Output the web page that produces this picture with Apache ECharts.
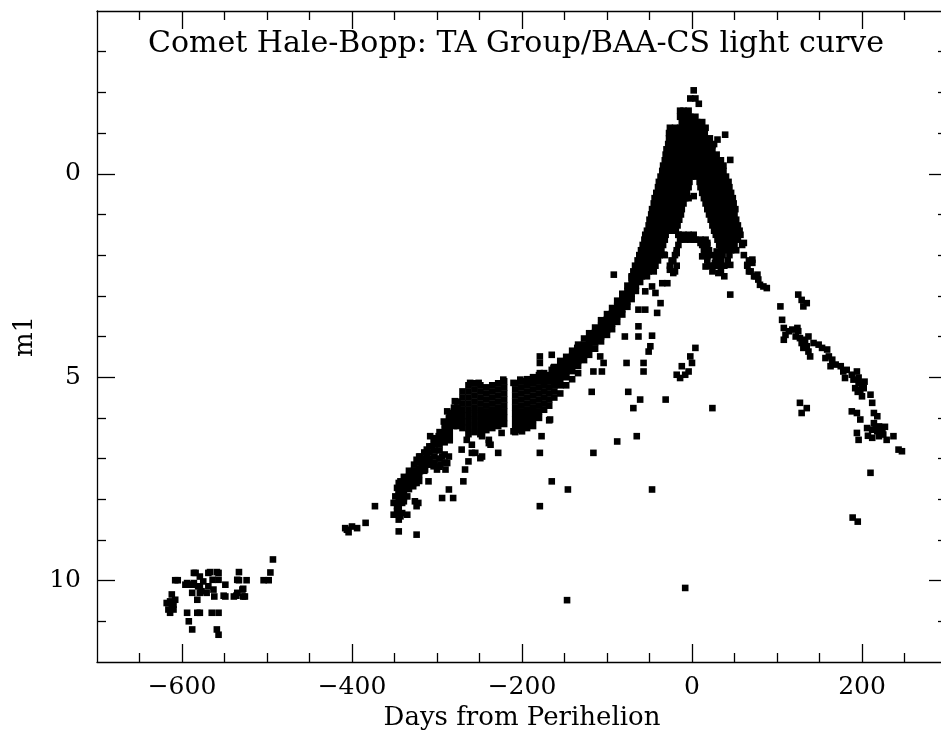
<!DOCTYPE html>
<html><head><meta charset="utf-8">
<script src="https://cdn.jsdelivr.net/npm/echarts@6/dist/echarts.min.js"></script>
<style>html,body{margin:0;padding:0;background:#fff}#c{width:941px;height:731px}</style>
</head><body><div id="c"></div>
<script>
// ---- Data: [day from perihelion, m1] ----
const earlyCluster = [[-493,9.48],[-496,9.80],[-504,9.99],[-498,9.99],[-533,9.79],[-524,9.99],[-533,9.99],[-528,10.2],[-528,10.39],[-536,10.37],[-549,10.1],[-551,10.37],[-559,9.79],[-557,9.98],[-567,9.79],[-569,10.14],[-563,10.22],[-571,10.3],[-562,10.39],[-564,9.98],[-575,10.02],[-579,10.14],[-577,10.26],[-584,9.81],[-586,10.06],[-588,10.3],[-582,10.47],[-581,10.14],[-590,10.1],[-594,10.06],[-605,9.99],[-612,10.34],[-614,10.51],[-612,10.63],[-616,10.71],[-614,10.79],[-608,10.47],[-610,10.59],[-618,10.55],[-610,10.71],[-594,10.79],[-582,10.79],[-592,11.0],[-565,10.79],[-557,10.79],[-588,11.2],[-559,11.2],[-557,11.33],[-579,10.79],[-608,9.99],[-596,10.1],[-588,10.1],[-586,9.81],[-579,9.9],[-579,10.3],[-569,9.81],[-557,9.81],[-549,10.39],[-539,10.39],[-529,10.22],[-535,9.98],[-535,10.3],[-526,10.39]];

const riseScatter = [[-406,8.75],[-400,8.67],[-394,8.71],[-408,8.71],[-404,8.81],[-384,8.58],[-373,8.17],[-345,8.79],[-324,8.87],[-351,8.38],[-343,8.42],[-347,8.3],[-341,8.34],[-335,8.38],[-345,8.5],[-351,8.09],[-347,8.17],[-349,7.93],[-345,7.85],[-343,7.68],[-347,7.72],[-341,7.81],[-343,7.56],[-339,7.97],[-335,7.93],[-341,8.09],[-326,8.05],[-322,8.09],[-324,8.17],[-328,7.68],[-324,7.6],[-322,7.52],[-326,7.4],[-320,7.31],[-316,7.19],[-314,7.27],[-310,7.56],[-324,7.03],[-320,6.95],[-316,7.03],[-312,6.99],[-308,7.11],[-318,7.11],[-304,7.19],[-300,7.27],[-296,7.15],[-290,7.27],[-288,7.11],[-294,6.95],[-286,6.95],[-312,6.78],[-306,6.70],[-300,6.62],[-304,6.54],[-308,6.45],[-298,6.45],[-292,6.54],[-296,6.37],[-290,6.29],[-288,6.17],[-292,6.09],[-286,6.0],[-284,5.88],[-281,5.92],[-282,6.17],[-279,6.04],[-279,5.59],[-288,5.84],[-286,7.76],[-294,7.97],[-281,7.97]];

// columns: [day, [m1 values]]
const riseCols = [[-345,[7.6,7.75,7.9,8.05,8.2,8.35]],[-339,[7.45,7.6,7.75,7.9,8.05]],[-333,[7.3,7.45,7.6,7.75]],[-327,[7.15,7.3,7.45,7.6]],[-321,[6.95,7.1,7.25,7.4,7.55]],[-315,[6.85,7.0,7.15,7.3]],[-309,[6.7,6.85,7.0,7.15]],[-303,[6.5,6.65,6.8,6.95,7.1]],[-297,[6.35,6.5,6.65,6.8,7.0,7.2]],[-291,[6.15,6.3,6.45,6.6,6.9,7.1]],[-285,[5.95,6.1,6.25,6.4,6.55]],[-280,[5.75,5.9,6.05,6.2]]];

const plateauCols = [[-276,[5.6,5.75,5.9,6.05,6.2]],[-270,[5.35,5.5,5.65,5.8,5.95,6.1,6.25]],[-263,[5.2,5.35,5.5,5.65,5.8,5.95,6.1,6.25,6.4]],[-256,[5.15,5.3,5.45,5.6,5.75,5.9,6.05,6.2,6.35]],[-249,[5.2,5.35,5.5,5.65,5.8,5.95,6.1,6.25,6.4]],[-242,[5.25,5.4,5.55,5.7,5.85,6.0,6.15,6.3]],[-235,[5.2,5.35,5.5,5.65,5.8,5.95,6.1,6.25]],[-228,[5.15,5.3,5.45,5.6,5.75,5.9,6.05,6.2]],[-221,[5.1,5.25,5.4,5.55,5.7,5.85,6.0,6.15]],[-208,[5.15,5.3,5.45,5.6,5.75,5.9,6.05,6.2,6.35]],[-201,[5.1,5.25,5.4,5.55,5.7,5.85,6.0,6.15,6.3]],[-194,[5.05,5.2,5.35,5.5,5.65,5.8,5.95,6.1,6.25]],[-187,[5.0,5.15,5.3,5.45,5.6,5.75,5.9,6.05,6.2]],[-180,[4.95,5.1,5.25,5.4,5.55,5.7,5.85,6.0]],[-174,[4.9,5.05,5.2,5.35,5.5,5.65,5.8]],[-168,[4.95,5.1,5.25,5.4,5.55,5.7]]];

const plateauScatter = [[-261,5.14],[-251,5.14],[-222,5.06],[-210,5.14],[-202,5.06],[-192,5.06],[-269,7.56],[-267,7.27],[-263,7.07],[-271,6.78],[-259,6.86],[-255,6.86],[-249,6.99],[-228,6.86],[-265,6.54],[-259,6.66],[-247,6.45],[-239,6.54],[-237,6.66],[-224,6.37],[-210,6.33],[-200,6.33],[-247,6.95],[-239,6.62],[-177,6.45],[-168,6.06],[-179,6.86],[-165,7.56],[-146,7.76],[-179,8.17],[-167,6.04]];

const bandCols = [[-162,[4.75,4.9,5.05,5.2,5.35,5.5]],[-155,[4.6,4.75,4.9,5.05,5.2,5.4]],[-148,[4.5,4.62,4.75,4.88,5.0,5.2]],[-141,[4.35,4.48,4.6,4.72,4.85,5.05]],[-134,[4.2,4.33,4.46,4.6,4.72,4.9]],[-127,[4.05,4.2,4.32,4.45,4.58]],[-121,[3.92,4.05,4.18,4.3,4.45]],[-114,[3.78,3.9,4.02,4.15,4.3]],[-107,[3.6,3.74,3.86,4.0,4.12]],[-100,[3.45,3.58,3.7,3.83,3.96]],[-94,[3.3,3.43,3.55,3.68,3.82]],[-88,[3.12,3.25,3.38,3.5,3.64]],[-82,[2.95,3.08,3.2,3.33,3.46]],[-76,[2.75,2.88,3.01,3.14,3.27]],[-71,[2.55,2.68,2.82,2.95,3.08]],[-66,[2.36,2.49,2.62,2.75,2.88]],[-61,[2.15,2.28,2.4,2.53,2.66]]];

const bandScatter = [[-179,4.49],[-165,4.45],[-179,4.65],[-163,4.77],[-179,4.9],[-165,4.82],[-155,4.82],[-135,4.28],[-129,4.28],[-108,4.49],[-104,4.65],[-116,4.86],[-106,4.86],[-79,4.0],[-63,4.0],[-47,3.98],[-63,3.75],[-49,4.24],[-51,4.37],[-77,4.65],[-57,4.65],[-57,4.86],[-92,2.48],[-116,6.86],[-118,5.36],[-88,6.58],[-65,6.45],[-75,5.36],[-61,5.55],[-69,5.76],[-31,5.55],[24,5.76],[-47,7.76],[-8,10.18],[-147,10.48],[4,4.28],[-2,4.49],[0,4.65],[-12,4.73],[-18,4.94],[-14,5.02],[-4,4.86],[-8,4.94],[-63,3.34],[-55,3.34],[-41,3.42],[-37,3.18],[-43,2.93],[-29,2.69],[-35,2.69],[-47,2.77],[-55,2.89],[-22,2.15],[-18,1.95],[-22,2.44],[-26,2.36],[-33,1.99]];

// rows: [m1, [days]]
const peakRows = [[-2.05,[2]],[-1.85,[-2,4]],[-1.72,[8]],[-1.55,[-14,-10,-4]],[-1.4,[-14,-8,-2,4]],[-1.27,[-12,-6,0,6,12]],[-1.13,[-26,-20,-14,-8,-2,4,10,16]],[-1.0,[-27,-21,-15,-9,-3,3,9,15]],[-0.87,[-27,-21,-15,-9,-3,3,9,15,21]],[-0.73,[-28,-22,-16,-10,-4,2,8,14,20,26]],[-0.6,[-30,-24,-18,-12,-6,0,6,12,18,24]],[-0.47,[-31,-25,-19,-13,-7,-1,5,11,17,23,29]],[-0.33,[-32,-26,-20,-14,-8,-2,4,10,16,22,28,34]],[-0.2,[-34,-28,-22,-16,-10,-4,2,8,14,20,26,32,37]],[-0.07,[-35,-29,-23,-17,-11,-5,1,7,13,19,25,31,37]],[0.07,[-37,-31,-25,-19,-13,-7,-1,5,11,17,23,29,35,40]],[0.2,[-39,-33,-27,-21,-15,-9,-3,9,15,21,27,33,39,43]],[0.33,[-40,-34,-28,-22,-16,-10,-4,10,16,22,28,34,40,44]],[0.47,[-42,-36,-30,-24,-18,-12,-6,12,18,24,30,36,42,46]],[0.6,[-44,-38,-32,-26,-20,-14,-8,14,20,26,32,38,44,48]],[0.73,[-45,-39,-33,-27,-21,-15,-10,16,22,28,34,40,46,49]],[0.87,[-47,-41,-35,-29,-23,-17,-12,18,24,30,36,42,48,51]],[1.0,[-48,-42,-36,-30,-24,-18,-13,20,26,32,38,44,50]],[1.13,[-50,-44,-38,-32,-26,-20,-15,22,28,34,40,46,52]],[1.27,[-51,-45,-39,-33,-27,-21,-17,24,30,36,42,48,54]],[1.4,[-53,-47,-41,-35,-29,-23,-19,26,32,38,44,50,56]],[1.5,[-55,-49,-43,-37,-31,-16,-10,-4,2,28,34,40,46,52,57]],[1.62,[-56,-50,-44,-38,-32,-14,-8,-2,4,10,16,30,36,42,48,54]],[1.75,[-58,-52,-46,-40,-34,-16,12,18,32,38,44,50,59]],[1.88,[-60,-54,-48,-42,-36,-18,14,20,34,40,46,52]],[2.0,[-62,-56,-50,-44,-38,-32,-20,16,24,30,36,44,61]],[2.13,[-64,-58,-52,-46,-40,-24,18,28,34,42,67]],[2.26,[-67,-61,-55,-49,-43,-26,-18,20,26,32,38,65]],[2.4,[-69,-63,-57,-51,-45,-20,24,34,69]],[2.52,[-71,-65,-59,-53,38,75]]];

const peakScatter = [[12,2.03],[18,2.03],[16,2.28],[27,2.19],[29,1.91],[31,2.44],[-16,1.5],[-6,1.54],[2,1.62],[10,1.7],[18,1.7],[39,-0.96],[30,-0.84],[24,-0.7],[45,-0.34],[-4,0.6],[2,0.55],[18,0.8],[45,2.24],[71,2.19],[67,2.4],[73,2.52],[78,2.6],[80,2.73],[84,2.77],[88,2.81],[45,2.97],[61,1.7],[71,2.11],[65,2.24],[77,2.48]];

const tailPoints = [[125,2.97],[129,3.1],[135,3.18],[131,3.26],[104,3.26],[106,3.59],[108,3.79],[110,3.96],[108,4.08],[114,3.87],[118,3.83],[124,3.79],[125,3.87],[122,4.0],[127,4.04],[129,4.16],[133,4.08],[137,4.0],[135,4.24],[131,4.28],[137,4.37],[139,4.49],[143,4.16],[149,4.2],[153,4.28],[159,4.32],[157,4.53],[161,4.49],[165,4.57],[163,4.73],[169,4.69],[175,4.73],[178,4.86],[182,4.82],[180,5.02],[188,4.94],[194,4.86],[190,5.06],[196,5.14],[192,5.27],[200,5.18],[198,5.31],[202,5.27],[200,5.47],[210,5.43],[212,5.63],[214,5.88],[218,5.96],[214,6.13],[220,6.21],[206,6.25],[212,6.29],[218,6.33],[224,6.29],[225,6.41],[220,6.45],[229,6.54],[237,6.45],[194,6.37],[196,6.54],[188,5.84],[194,5.88],[198,6.04],[243,6.78],[247,6.82],[210,7.35],[127,5.63],[135,5.76],[129,5.88],[189,8.45],[195,8.55],[216,6.24],[222,6.36],[207,6.44],[227,6.22],[212,6.49],[196,5.01],[203,5.11],[195,5.36]];

// ---- Axis ticks / labels ----
const xMajorTicks = [-600,-400,-200,0,200];
const xMinorTicks = [-650,-550,-500,-450,-350,-300,-250,-150,-100,-50,50,100,150,250];
const yMajorTicks = [0,5,10];
const yMinorTicks = [-3,-2,-1,1,2,3,4,6,7,8,9,11];
const xRange = [-700, 300];
const yRange = [-4, 12];

function flatCols(cols){ const out=[]; cols.forEach(([d,ms])=>ms.forEach(m=>out.push([d,m]))); return out; }
function flatRows(rows){ const out=[]; rows.forEach(([m,ds])=>ds.forEach(d=>out.push([d,m]))); return out; }

const points = [].concat(earlyCluster, riseScatter, flatCols(riseCols), flatCols(plateauCols), plateauScatter,
  flatCols(bandCols), bandScatter, flatRows(peakRows), peakScatter, tailPoints);

const FONT = 'DejaVu Serif';
const INK = '#000';
const fmt = v => String(v).replace('-', '\u2212');

function axisCommon(type, pos, ticks, len, showLine, label, extra) {
  const r = type === 'x' ? xRange : yRange;
  const o = {
    type: 'value', min: r[0], max: r[1], position: pos, gridIndex: 0,
    axisLine: { show: showLine, onZero: false, lineStyle: { color: INK, width: 1.3 } },
    axisTick: { show: true, inside: true, length: len, customValues: ticks, lineStyle: { color: INK, width: 1.3 } },
    axisLabel: label ? { show: true, customValues: ticks, formatter: fmt, fontFamily: FONT, fontSize: 25, color: INK, margin: type === 'x' ? 13 : 16 } : { show: false },
    splitLine: { show: false }, minorTick: { show: false }
  };
  if (type === 'y') o.inverse = true;
  return Object.assign(o, extra || {});
}

const nameStyle = { fontFamily: FONT, fontSize: 26, color: INK };

const option = {
  animation: false,
  backgroundColor: '#fff',
  title: {
    text: 'Comet Hale-Bopp: TA Group/BAA-CS light curve',
    left: 516, top: 29, textAlign: 'center', padding: 0,
    textStyle: { fontFamily: FONT, fontSize: 30, fontWeight: 'normal', color: INK }
  },
  grid: { left: 97, top: 11, width: 850, height: 651, containLabel: false, outerBoundsMode: 'none' },
  xAxis: [
    axisCommon('x', 'bottom', xMajorTicks, 18, true, true, { name: 'Days from Perihelion', nameLocation: 'middle', nameGap: 41, nameTextStyle: nameStyle }),
    axisCommon('x', 'bottom', xMinorTicks, 9, false, false),
    axisCommon('x', 'top', xMajorTicks, 18, true, false),
    axisCommon('x', 'top', xMinorTicks, 9, false, false)
  ],
  yAxis: [
    axisCommon('y', 'left', yMajorTicks, 18, true, true, { name: 'm1', nameLocation: 'middle', nameGap: 54, nameRotate: 90, nameTextStyle: nameStyle }),
    axisCommon('y', 'left', yMinorTicks, 9, false, false),
    axisCommon('y', 'right', yMajorTicks, 18, true, false),
    axisCommon('y', 'right', yMinorTicks, 9, false, false)
  ],
  series: [{
    type: 'scatter', xAxisIndex: 0, yAxisIndex: 0, data: points,
    symbol: 'rect', symbolSize: 6.6, itemStyle: { color: INK, opacity: 1 }, silent: true
  }]
};

const chart = echarts.init(document.getElementById('c'), null, { renderer: 'canvas' });
chart.setOption(option);
</script></body></html>
